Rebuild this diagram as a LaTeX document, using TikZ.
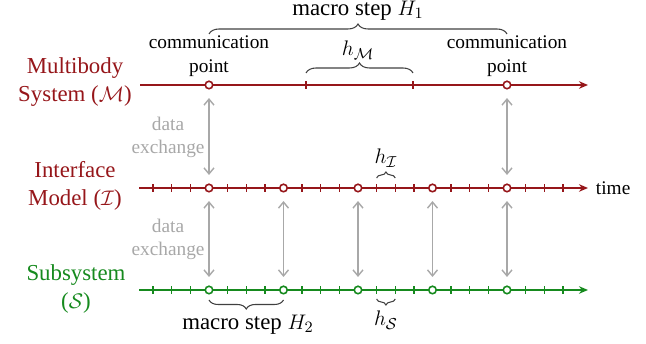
\documentclass[tikz,border=0pt]{standalone}
\usepackage{amsmath}
\usepackage{fontspec}
\setmainfont{Liberation Serif}
\usetikzlibrary{arrows.meta, positioning, decorations.pathreplacing, calc}
\definecolor{mbred}{RGB}{150,22,26}
\definecolor{subgreen}{RGB}{22,138,30}
\definecolor{xgray}{RGB}{168,168,168}
\tikzset{
    % time axes
    taxis/.style={draw=#1, line width=1.1pt, -{Stealth[length=1.8mm, width=1.5mm]}},
    ttick/.style={draw=#1, line width=0.8pt},
    cpoint/.style={circle, draw=#1, fill=white, line width=0.9pt,
                  inner sep=0pt, minimum size=1.5mm},
    % labels
    syslbl/.style={align=center, text=#1, font=\rmfamily\fontsize{13}{16}\selectfont},
    cplbl/.style={align=center, font=\rmfamily\fontsize{11}{14}\selectfont},
    xlbl/.style={align=center, text=xgray, font=\rmfamily\fontsize{11}{13}\selectfont},
    steplbl/.style={font=\rmfamily\fontsize{13}{15}\selectfont},
    % data exchange
    xarrow/.style={{Straight Barb[length=1.2mm, width=2mm]}-{Straight Barb[length=1.2mm, width=2mm]},
                  draw=xgray, line width=0.8pt, shorten <=0.17cm, shorten >=0.17cm},
    % braces
    brc/.style={decorate, decoration={brace, amplitude=#1}, draw=black!75, line width=0.6pt},
    brcm/.style={decorate, decoration={brace, amplitude=#1, mirror}, draw=black!75, line width=0.6pt},
}
\begin{document}
\begin{tikzpicture}[x=0.02cm, y=0.02cm]
\useasboundingbox (0,0) rectangle (646,344);

% axes
\coordinate (m0) at (140,259);   \coordinate (mend) at (588,259);
\coordinate (i0) at (139,156);   \coordinate (iend) at (588,156);
\coordinate (s0) at (139,54);    \coordinate (send) at (588,54);
\draw[taxis=mbred] (m0) -- (mend);
\draw[taxis=mbred] (i0) -- (iend);
\draw[taxis=subgreen] (s0) -- (send);

% micro steps
\coordinate (mt1) at (306,259);
\coordinate (mt2) at (413,259);
\draw[ttick=mbred] ($(mt1)+(0,-4)$) -- ($(mt1)+(0,4)$);
\draw[ttick=mbred] ($(mt2)+(0,-4)$) -- ($(mt2)+(0,4)$);
\foreach \i in {-3,-2,-1,1,2,3,5,6,7,9,10,11,13,14,15,17,18,19} {
    \draw[ttick=mbred] ({209+18.625*\i},152) -- ({209+18.625*\i},160);
    \draw[ttick=subgreen] ({209+18.625*\i},50) -- ({209+18.625*\i},58);
}

% communication points
\node[cpoint=mbred] (m1) at (209,259) {};
\node[cpoint=mbred] (m2) at (507,259) {};
\foreach \k [count=\n] in {0,...,4} {
    \node[cpoint=mbred] (i\n) at ({209+74.5*\k},156) {};
    \node[cpoint=subgreen] (s\n) at ({209+74.5*\k},54) {};
}

% data exchange
\draw[xarrow] (m1) -- (i1);
\draw[xarrow] (m2) -- (i5);
\foreach \n in {1,...,5}
    \draw[xarrow] (i\n) -- (s\n);

% system labels
\node[syslbl=mbred] (msys) at (75,262) {Multibody\\System ($\mathcal{M}$)};
\node[syslbl=mbred] (isys) at (75,158) {Interface\\Model ($\mathcal{I}$)};
\node[syslbl=subgreen] (ssys) at (76,55) {Subsystem\\($\mathcal{S}$)};
\node[font=\rmfamily\fontsize{11}{13}\selectfont, right=1pt of iend] (time) {time};

\node[cplbl] (cp1) at (209,288) {communication\\point};
\node[cplbl] (cp2) at (507,288) {communication\\point};
\node[xlbl] (xl1) at (168,207) {data\\exchange};
\node[xlbl] (xl2) at (168,105) {data\\exchange};

% step sizes
\draw[brc=2mm] (209,310) -- (507,310);
\node[steplbl] (H1) at (358,333) {macro step $H_1$};
\draw[brc=2mm] (306,271) -- (413,271);
\node[steplbl] (hM) at (358,294) {$h_{\mathcal{M}}$};
\draw[brc=1.2mm] (376.6,166) -- (395.3,166);
\node[steplbl] (hI) at (386,186) {$h_{\mathcal{I}}$};
\draw[brcm=1.2mm] (376.6,45) -- (395.3,45);
\node[steplbl] (hS) at (386,24) {$h_{\mathcal{S}}$};
\draw[brcm=1.8mm] (209,44) -- (283.5,44);
\node[steplbl] (H2) at (248,19) {macro step $H_2$};
\end{tikzpicture}
\end{document}
